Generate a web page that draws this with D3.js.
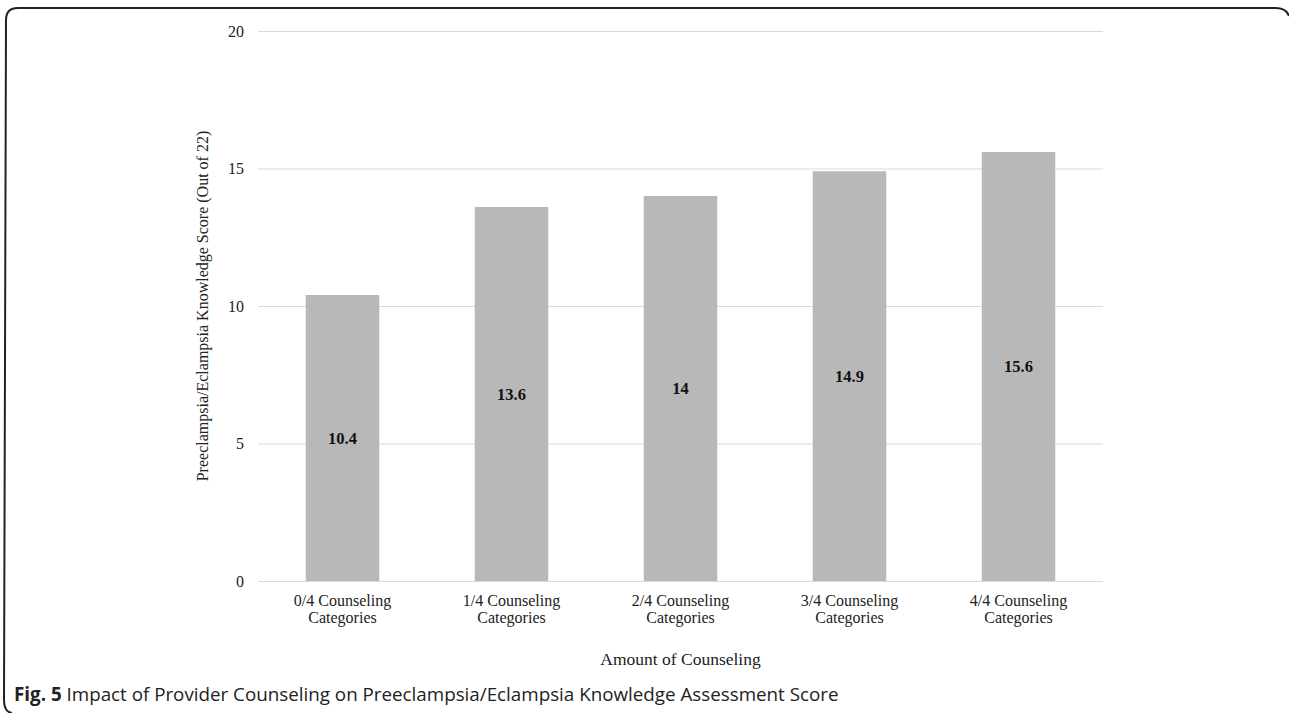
<!DOCTYPE html>
<html>
<head>
<meta charset="utf-8">
<script src="https://cdn.jsdelivr.net/npm/d3@7"></script>
<style>
  html, body { margin: 0; padding: 0; background: #fff; }
  svg { display: block; }
</style>
</head>
<body>
<svg id="chart" width="1289" height="713"></svg>
<script>
// Mean knowledge score by amount of counseling received
const categories = [
  ["0/4 Counseling", "Categories"],
  ["1/4 Counseling", "Categories"],
  ["2/4 Counseling", "Categories"],
  ["3/4 Counseling", "Categories"],
  ["4/4 Counseling", "Categories"]
];
const scores = [10.4, 13.6, 14, 14.9, 15.6];
const yTicks = [0, 5, 10, 15, 20];
const yTitle = "Preeclampsia/Eclampsia Knowledge Score (Out of 22)";
const xTitle = "Amount of Counseling";
const captionLead = "Fig. 5";
const captionText = " Impact of Provider Counseling on Preeclampsia/Eclampsia Knowledge Assessment Score";

const svg = d3.select("#chart");
const serif = "'Liberation Serif', 'Times New Roman', serif";
const sans = "'Open Sans', 'Noto Sans', sans-serif";

// Figure frame: top and left edges with rounded corners
svg.append("path")
  .attr("d", "M 12,713 Q 4,712 4,700 L 6,20 Q 6,8 18,8 L 1276,8 Q 1286,8 1289,16")
  .attr("fill", "none")
  .attr("stroke", "#222")
  .attr("stroke-width", 2);

const plot = { left: 258, right: 1103, top: 31, bottom: 581 };

const labels = categories.map(c => c.join(" "));
const x = d3.scaleBand()
  .domain(labels)
  .range([plot.left, plot.right])
  .paddingInner(0.565)
  .paddingOuter(0.2825);

const y = d3.scaleLinear()
  .domain([0, 20])
  .range([plot.bottom, plot.top]);

// Horizontal gridlines and tick labels
const yAxis = d3.axisLeft(y)
  .tickValues(yTicks)
  .tickSize(-(plot.right - plot.left))
  .tickPadding(14);

const gy = svg.append("g")
  .attr("transform", `translate(${plot.left},0)`)
  .call(yAxis);
gy.select(".domain").remove();
gy.selectAll(".tick line").attr("stroke", "#d9d9d9").attr("stroke-width", 1);
gy.selectAll(".tick text")
  .attr("fill", "#222")
  .attr("font-family", serif)
  .attr("font-size", 16);

// Bars
svg.append("g").selectAll("rect")
  .data(scores)
  .join("rect")
  .attr("x", (d, i) => x(labels[i]))
  .attr("y", d => y(d))
  .attr("width", x.bandwidth())
  .attr("height", d => y(0) - y(d))
  .attr("fill", "#b8b8b8");

// Value labels centred in each bar
svg.append("g").selectAll("text")
  .data(scores)
  .join("text")
  .attr("x", (d, i) => x(labels[i]) + x.bandwidth() / 2)
  .attr("y", d => (y(d) + y(0)) / 2)
  .attr("dy", "0.35em")
  .attr("text-anchor", "middle")
  .attr("font-family", serif)
  .attr("font-weight", "bold")
  .attr("font-size", 16.5)
  .attr("fill", "#111")
  .text(d => d);

// Category labels on two lines
const gx = svg.append("g");
categories.forEach((lines, i) => {
  const t = gx.append("text")
    .attr("x", x(labels[i]) + x.bandwidth() / 2)
    .attr("y", 606)
    .attr("text-anchor", "middle")
    .attr("font-family", serif)
    .attr("font-size", 16)
    .attr("fill", "#222");
  lines.forEach((ln, j) => {
    t.append("tspan")
      .attr("x", x(labels[i]) + x.bandwidth() / 2)
      .attr("dy", j === 0 ? 0 : 16.5)
      .text(ln);
  });
});

// Axis titles
svg.append("text")
  .attr("x", (plot.left + plot.right) / 2)
  .attr("y", 665)
  .attr("text-anchor", "middle")
  .attr("font-family", serif)
  .attr("font-size", 17.5)
  .attr("fill", "#222")
  .text(xTitle);

svg.append("text")
  .attr("transform", `translate(208,${(plot.top + plot.bottom) / 2}) rotate(-90)`)
  .attr("text-anchor", "middle")
  .attr("font-family", serif)
  .attr("font-size", 16)
  .attr("fill", "#222")
  .text(yTitle);

// Caption
const cap = svg.append("text")
  .attr("x", 14)
  .attr("y", 701)
  .attr("font-family", sans)
  .attr("font-size", 18.8)
  .attr("fill", "#222");
cap.append("tspan").attr("font-weight", "bold").text(captionLead);
cap.append("tspan").text(captionText);
</script>
</body>
</html>
